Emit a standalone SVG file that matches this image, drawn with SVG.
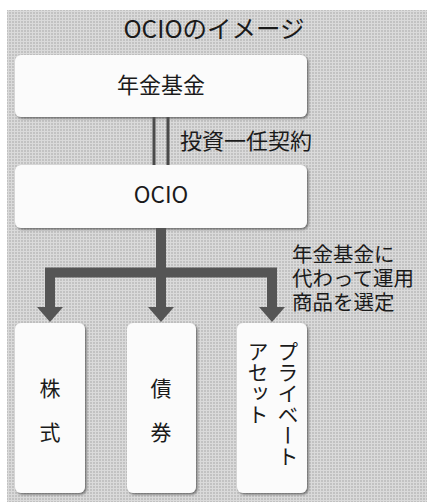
<svg xmlns="http://www.w3.org/2000/svg" width="427" height="502" viewBox="0 0 427 502">
<defs>
<pattern id="dots" width="3" height="3" patternUnits="userSpaceOnUse">
<rect width="3" height="3" fill="#dadada"/>
<rect x="0" y="0" width="2" height="2" fill="#c2c2c2"/>
</pattern>
<filter id="sh" x="-10%" y="-10%" width="130%" height="130%">
<feDropShadow dx="1.5" dy="1.5" stdDeviation="0.8" flood-color="#555" flood-opacity="0.8"/>
</filter>
<marker id="ah" markerUnits="userSpaceOnUse" viewBox="0 0 26 15" markerWidth="26" markerHeight="15" refX="13" refY="0" orient="0">
<path d="M0,0 L26,0 L13,15 Z" fill="#555"/>
</marker>
</defs>
<style>
.box{fill:#fbfbfb;filter:url(#sh)}
.t{font-family:"Noto Sans CJK JP","Noto Sans",sans-serif;fill:#1a1a1a}
.c{text-anchor:middle}
.thick{stroke:#555;stroke-width:10;fill:none}
.thin{stroke:#4a4a4a;stroke-width:3;fill:none}
</style>
<rect x="7" y="10" width="420" height="492" fill="url(#dots)"/>
<text class="t c" x="214" y="38" font-size="24.5">OCIOのイメージ</text>
<g id="connectors">
<line class="thin" x1="154" y1="117" x2="154" y2="165"/>
<line class="thin" x1="168" y1="117" x2="168" y2="165"/>
<path class="thick" d="M161,228 V272 M45,272.5 H277"/>
<path class="thick" d="M50,272 V307" marker-end="url(#ah)"/>
<path class="thick" d="M161,272 V307" marker-end="url(#ah)"/>
<path class="thick" d="M272,272 V307" marker-end="url(#ah)"/>
<text class="t" x="180" y="149" font-size="22">投資一任契約</text>
<text class="t" font-size="20.5"><tspan x="292" y="262">年金基金に</tspan><tspan x="292" y="286">代わって運用</tspan><tspan x="292" y="310">商品を選定</tspan></text>
</g>
<g id="pension">
<rect class="box" x="15" y="55" width="292" height="62" rx="6"/>
<text class="t c" x="161" y="93" font-size="22">年金基金</text>
</g>
<g id="ocio">
<rect class="box" x="15" y="165" width="292" height="63" rx="6"/>
<text class="t c" x="161" y="203" font-size="22.5">OCIO</text>
</g>
<g id="stocks">
<rect class="box" x="15" y="323" width="70" height="170" rx="6"/>
<text class="t c" x="50" y="396" font-size="21">株</text>
<text class="t c" x="50" y="440" font-size="21">式</text>
</g>
<g id="bonds">
<rect class="box" x="127" y="323" width="69" height="170" rx="6"/>
<text class="t c" x="161" y="396" font-size="21">債</text>
<text class="t c" x="161" y="440" font-size="21">券</text>
</g>
<g id="private">
<rect class="box" x="237" y="323" width="70" height="170" rx="6"/>
<text class="t" x="288" y="341" font-size="21" style="writing-mode:vertical-rl">プライベート</text>
<text class="t" x="258" y="341" font-size="21" style="writing-mode:vertical-rl">アセット</text>
</g>
</svg>
